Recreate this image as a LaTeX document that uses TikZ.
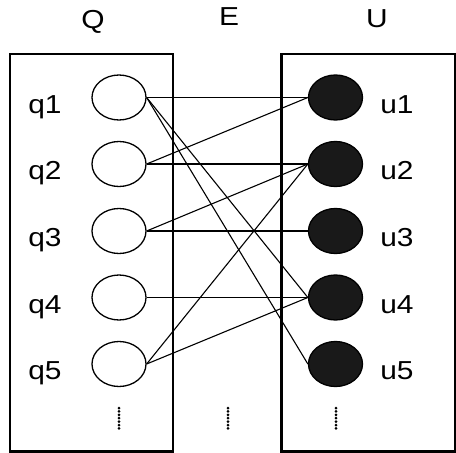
\documentclass[tikz,border=0pt]{standalone}
\usepackage{fontspec}
\setmainfont{Liberation Sans}[FakeStretch=1.15]
\usetikzlibrary{shapes.geometric}

\tikzset{
	qnode/.style={ellipse, draw, line width=1.3pt, minimum width=54pt, minimum height=45pt, inner sep=0pt},
	unode/.style={qnode, fill=black!90},
	lbl/.style={anchor=base, inner sep=0pt, font=\fontsize{26}{30}\selectfont},
	edge/.style={line width=1.1pt}
}

\begin{document}
\begin{tikzpicture}[x=1pt,y=-1pt]
		\useasboundingbox (0,0) rectangle (456,453);
		\draw[line width=2.5pt] (10,54) rectangle (173,451.5);
		\draw[line width=2.5pt] (281.7,54) rectangle (455,451.5);
		
		\node[lbl] (Q) at (93,28) {Q};
		\node[lbl] (E) at (229,25) {E};
		\node[lbl] (U) at (377,27) {U};
		
		\node[qnode] (q1) at (119,97.5) {};
		\node[qnode] (q2) at (119,164) {};
		\node[qnode] (q3) at (119,231) {};
		\node[qnode] (q4) at (119,297.5) {};
		\node[qnode] (q5) at (119,364) {};
		
		\node[unode] (u1) at (335.5,97.5) {};
		\node[unode] (u2) at (335.5,164) {};
		\node[unode] (u3) at (335.5,231) {};
		\node[unode] (u4) at (335.5,297.5) {};
		\node[unode] (u5) at (335.5,364) {};
		
		\node[lbl] (lq1) at (45,113) {q1};
		\node[lbl] (lq2) at (45,179.5) {q2};
		\node[lbl] (lq3) at (45,246.5) {q3};
		\node[lbl] (lq4) at (45,313) {q4};
		\node[lbl] (lq5) at (45,379.5) {q5};
		
		\node[lbl] (lu1) at (397,113) {u1};
		\node[lbl] (lu2) at (397,179.5) {u2};
		\node[lbl] (lu3) at (397,246.5) {u3};
		\node[lbl] (lu4) at (397,313) {u4};
		\node[lbl] (lu5) at (397,379.5) {u5};
		
		% edges
		\draw[edge] (q1.east) -- (u1.west);
		\draw[edge] (q1.east) -- (u4.west);
		\draw[edge] (q1.east) -- (u5.west);
		\draw[edge] (q2.east) -- (u1.west);
		\draw[edge] (q2.east) -- (u2.west);
		\draw[edge] (q3.east) -- (u2.west);
		\draw[edge] (q3.east) -- (u3.west);
		\draw[edge] (q4.east) -- (u4.west);
		\draw[edge] (q5.east) -- (u2.west);
		\draw[edge] (q5.east) -- (u4.west);
		
		% dots
		\foreach \x in {119,228,336}
			\foreach \y in {408,411.4,...,429}
				\fill (\x,\y) circle (1.5pt);
	\end{tikzpicture}
\end{document}
